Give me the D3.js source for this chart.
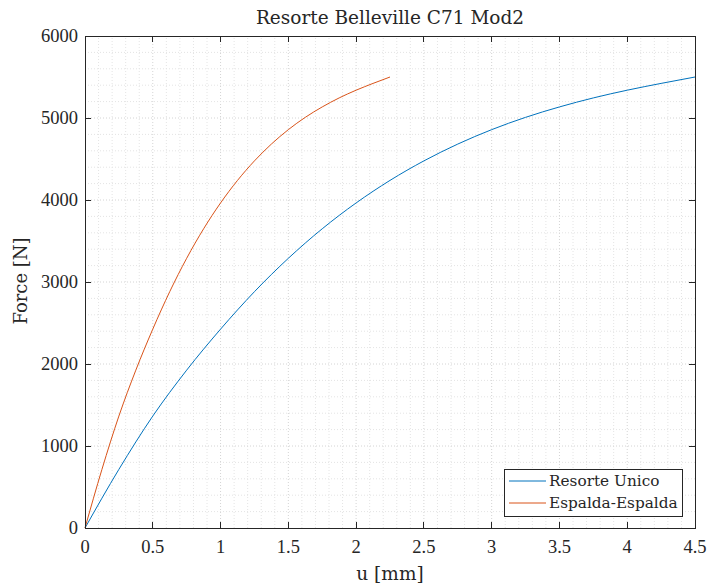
<!DOCTYPE html>
<html>
<head>
<meta charset="utf-8">
<script src="https://cdn.jsdelivr.net/npm/d3@7"></script>
<style>
  body { margin: 0; background: #fff; }
  text { font-family: "Liberation Serif", "DejaVu Serif", serif; fill: #262626; }
  .wide { font-family: "DejaVu Serif", "Liberation Serif", serif; }
</style>
</head>
<body>
<svg id="chart" width="710" height="587"></svg>
<script>
// 数据
let uUnico = [0, 0.25, 0.5, 0.75, 1, 1.25, 1.5, 1.75, 2, 2.25, 2.5, 2.75, 3, 3.25, 3.5, 3.75, 4, 4.25, 4.5]
let fUnico = [0, 715, 1365, 1925, 2425, 2882, 3289, 3649, 3964, 4239, 4477, 4682, 4858, 5008, 5135, 5245, 5339, 5422, 5500]
let uEspalda = [0, 0.125, 0.25, 0.375, 0.5, 0.625, 0.75, 0.875, 1, 1.125, 1.25, 1.375, 1.5, 1.625, 1.75, 1.875, 2, 2.125, 2.25]
let fEspalda = [0, 715, 1365, 1925, 2425, 2882, 3289, 3649, 3964, 4239, 4477, 4682, 4858, 5008, 5135, 5245, 5339, 5422, 5500]
let seriesNames = ["Resorte Unico", "Espalda-Espalda"]
let seriesColors = ["#0072BD", "#D95319"]
let xTicks = [0, 0.5, 1, 1.5, 2, 2.5, 3, 3.5, 4, 4.5]
let yTicks = [0, 1000, 2000, 3000, 4000, 5000, 6000]

let margin = { left: 85, right: 15, top: 36, bottom: 59 }
let width = 710, height = 587
let svg = d3.select("#chart")

let xScale = d3.scaleLinear().domain([0, 4.5]).range([margin.left, width - margin.right])
let yScale = d3.scaleLinear().domain([0, 6000]).range([height - margin.bottom, margin.top])

// minor grid
let gridG = svg.append("g")
gridG.selectAll("line.vx")
    .data(d3.range(0, 45).map(d => d / 10).filter(d => d > 0))
    .enter().append("line")
    .attr("x1", d => xScale(d)).attr("x2", d => xScale(d))
    .attr("y1", yScale(0)).attr("y2", yScale(6000))
    .attr("stroke", d => Math.abs(d * 2 - Math.round(d * 2)) < 1e-6 ? "#d4d4d4" : "#e4e4e4")
    .attr("stroke-width", 1)
    .attr("stroke-dasharray", "1,2")
gridG.selectAll("line.hy")
    .data(d3.range(1, 30).map(d => d * 200))
    .enter().append("line")
    .attr("y1", d => yScale(d)).attr("y2", d => yScale(d))
    .attr("x1", xScale(0)).attr("x2", xScale(4.5))
    .attr("stroke", d => d % 1000 == 0 ? "#d4d4d4" : "#e4e4e4")
    .attr("stroke-width", 1)
    .attr("stroke-dasharray", "1,2")

// curves
let line = d3.line()
    .x(d => xScale(d[0]))
    .y(d => yScale(d[1]))
    .curve(d3.curveMonotoneX)
let dataSets = [d3.zip(uUnico, fUnico), d3.zip(uEspalda, fEspalda)]
svg.append("g").selectAll("path")
    .data(dataSets)
    .enter().append("path")
    .attr("d", d => line(d))
    .attr("fill", "none")
    .attr("stroke", (d, i) => seriesColors[i])
    .attr("stroke-width", 1)

// axes (ticks inward, box)
let tick = 6
let axisG = svg.append("g")
axisG.append("rect")
    .attr("x", xScale(0)).attr("y", yScale(6000))
    .attr("width", xScale(4.5) - xScale(0)).attr("height", yScale(0) - yScale(6000))
    .attr("fill", "none").attr("stroke", "#262626").attr("stroke-width", 1)
    .attr("shape-rendering", "crispEdges")
xTicks.forEach(function (t) {
    let x = xScale(t)
    axisG.append("line").attr("x1", x).attr("x2", x).attr("y1", yScale(0)).attr("y2", yScale(0) - tick)
        .attr("stroke", "#262626").attr("shape-rendering", "crispEdges")
    axisG.append("line").attr("x1", x).attr("x2", x).attr("y1", yScale(6000)).attr("y2", yScale(6000) + tick)
        .attr("stroke", "#262626").attr("shape-rendering", "crispEdges")
    axisG.append("text").attr("x", x).attr("y", yScale(0) + 25)
        .attr("text-anchor", "middle").attr("font-size", "18.5px").text(t)
})
yTicks.forEach(function (t) {
    let y = yScale(t)
    axisG.append("line").attr("x1", xScale(0)).attr("x2", xScale(0) + tick).attr("y1", y).attr("y2", y)
        .attr("stroke", "#262626").attr("shape-rendering", "crispEdges")
    axisG.append("line").attr("x1", xScale(4.5)).attr("x2", xScale(4.5) - tick).attr("y1", y).attr("y2", y)
        .attr("stroke", "#262626").attr("shape-rendering", "crispEdges")
    axisG.append("text").attr("x", xScale(0) - 7).attr("y", y + 6)
        .attr("text-anchor", "end").attr("font-size", "18.5px").text(t)
})

// labels
svg.append("text").attr("class", "wide").attr("x", 390).attr("y", 24).attr("text-anchor", "middle")
    .attr("font-size", "18.5px").text("Resorte Belleville C71 Mod2")
svg.append("text").attr("class", "wide").attr("x", 390).attr("y", 580).attr("text-anchor", "middle")
    .attr("font-size", "18.5px").text("u [mm]")
svg.append("text").attr("class", "wide").attr("transform", "translate(27," + 281 + ") rotate(-90)").attr("text-anchor", "middle")
    .attr("font-size", "18px").text("Force [N]")

// legend
let legend = svg.append("g")
legend.append("rect").attr("x", 504.5).attr("y", 469.5).attr("width", 178).attr("height", 47)
    .attr("fill", "#fff").attr("stroke", "#262626").attr("stroke-width", 1)
seriesNames.forEach(function (name, i) {
    let y = 481 + i * 22
    legend.append("line").attr("x1", 509).attr("x2", 546).attr("y1", y).attr("y2", y)
        .attr("stroke", seriesColors[i]).attr("stroke-width", 1)
    legend.append("text").attr("class", "wide").attr("x", 549).attr("y", y + 5).attr("font-size", "15.3px").text(name)
})
</script>
</body>
</html>
